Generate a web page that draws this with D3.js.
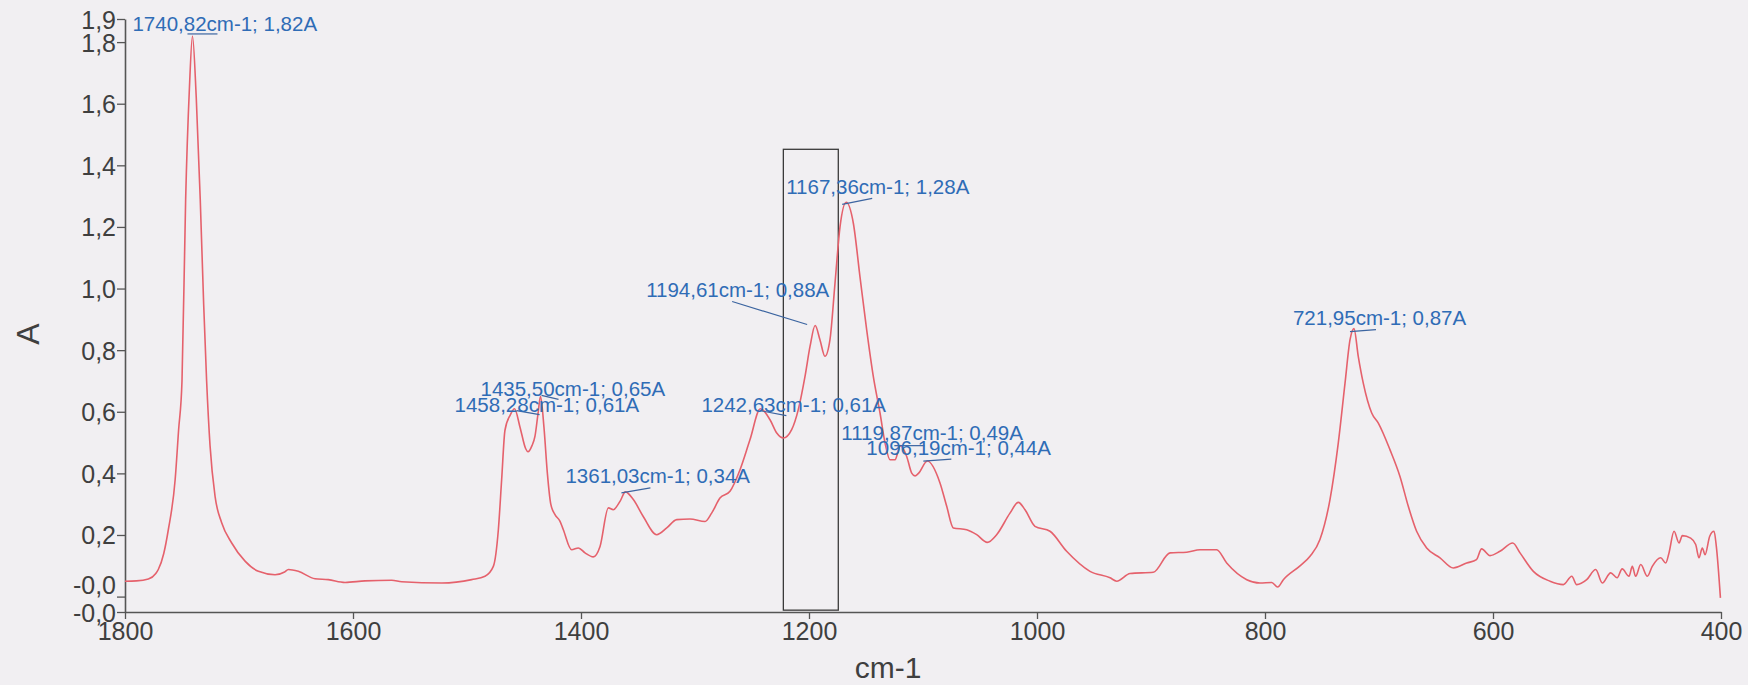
<!DOCTYPE html>
<html>
<head>
<meta charset="utf-8">
<script src="https://cdn.jsdelivr.net/npm/d3@7/dist/d3.min.js"></script>
<style>
  html, body { margin: 0; padding: 0; background: #f1eff2; }
  svg { display: block; font-family: "Liberation Sans", Arial, sans-serif; }
</style>
</head>
<body>
<svg id="chart" width="1748" height="685"></svg>
<script>
// IR absorbance spectrum: wavenumber (cm-1) and absorbance (A)
const wavenumbers = [
  1800, 1790, 1779.5, 1773, 1770.8, 1766, 1762, 1756, 1753, 1750,
  1746.8, 1743.5, 1740.82, 1737.5, 1734, 1731, 1728.4, 1725.4, 1721, 1715.2,
  1706.4, 1694.7, 1683, 1668.4, 1660, 1656.7, 1648, 1633.3, 1621.7, 1607,
  1589.5, 1566, 1557.3, 1522, 1495.9, 1484.2, 1476.9, 1472.5, 1469.6, 1466.7,
  1462, 1458.28, 1453.5, 1448.5, 1446.5, 1443, 1440.4, 1437.5, 1435.5, 1432.5,
  1429.5, 1426.5, 1422.8, 1418.5, 1415.5, 1408.2, 1402.3, 1396.5, 1389.2, 1383.3,
  1376, 1371.7, 1365.8, 1361.03, 1354.1, 1345.4, 1333.6, 1324.8, 1316, 1304.4,
  1291.2, 1285.4, 1278.1, 1269.3, 1260.5, 1251.8, 1242.63, 1234.2, 1228.3, 1222.5,
  1215.2, 1209.4, 1203.5, 1199.1, 1194.61, 1190.4, 1186, 1181.6, 1177.2, 1172.8,
  1167.36, 1161.1, 1155.3, 1149.4, 1143.6, 1137.7, 1133.3, 1128.9, 1124.6, 1119.87,
  1114.3, 1109.9, 1107, 1104, 1096.19, 1085.1, 1079.2, 1073.4, 1061.7, 1052.9,
  1043.6, 1035.4, 1023.7, 1016.4, 1010.5, 1001.8, 988.6, 974, 953.5, 935.9,
  930.1, 918.4, 898, 883.3, 868.7, 857, 842.4, 833.6, 816, 804.4,
  794.1, 788.9, 783.9, 769.3, 760.5, 751.8, 743, 735.7, 729.8, 725.4,
  721.95, 718.2, 713.8, 706.4, 700.6, 690.4, 681.6, 674.3, 667, 658.2,
  646.5, 634.8, 623.1, 614.5, 610, 602.6, 593.9, 582.7, 576.3, 564.6,
  550, 538.3, 530.9, 526.6, 517.8, 509.9, 504.1, 496.8, 491.1, 486.7,
  480.7, 477.8, 474.9, 470.4, 464.6, 460.3, 452.9, 448.5, 445.6, 441.2,
  436.8, 433.9, 426.6, 422.2, 419.3, 416.4, 414, 409.9, 406.1, 404.1,
  400.5
];
const absorbance = [
  0.050, 0.051, 0.057, 0.075, 0.088, 0.140, 0.217, 0.380, 0.540, 0.700,
  1.290, 1.650, 1.820, 1.620, 1.290, 0.950, 0.700, 0.490, 0.325, 0.240,
  0.174, 0.115, 0.082, 0.071, 0.080, 0.088, 0.082, 0.058, 0.055, 0.046,
  0.051, 0.053, 0.048, 0.044, 0.055, 0.066, 0.098, 0.217, 0.380, 0.540,
  0.590, 0.610, 0.550, 0.480, 0.470, 0.490, 0.520, 0.600, 0.650, 0.550,
  0.400, 0.300, 0.266, 0.245, 0.217, 0.152, 0.158, 0.142, 0.129, 0.163,
  0.288, 0.282, 0.309, 0.340, 0.315, 0.260, 0.201, 0.223, 0.250, 0.252,
  0.244, 0.271, 0.320, 0.342, 0.412, 0.509, 0.610, 0.574, 0.531, 0.515,
  0.542, 0.607, 0.715, 0.812, 0.880, 0.834, 0.780, 0.834, 1.017, 1.200,
  1.280, 1.212, 1.039, 0.866, 0.715, 0.596, 0.499, 0.444, 0.444, 0.490,
  0.455, 0.401, 0.392, 0.400, 0.440, 0.369, 0.293, 0.223, 0.217, 0.201,
  0.176, 0.201, 0.271, 0.306, 0.282, 0.228, 0.212, 0.147, 0.082, 0.061,
  0.050, 0.075, 0.079, 0.142, 0.144, 0.152, 0.152, 0.109, 0.055, 0.044,
  0.046, 0.031, 0.055, 0.100, 0.131, 0.185, 0.315, 0.499, 0.693, 0.834,
  0.870, 0.780, 0.693, 0.596, 0.563, 0.477, 0.390, 0.293, 0.212, 0.158,
  0.126, 0.093, 0.109, 0.120, 0.155, 0.133, 0.147, 0.174, 0.142, 0.082,
  0.050, 0.039, 0.066, 0.039, 0.055, 0.088, 0.044, 0.077, 0.061, 0.090,
  0.066, 0.098, 0.066, 0.104, 0.066, 0.098, 0.126, 0.109, 0.142, 0.212,
  0.174, 0.198, 0.190, 0.169, 0.126, 0.158, 0.136, 0.196, 0.212, 0.163,
  -0.004
];

// Picked peaks
const peakWavenumbers = [1740.82, 1167.36, 1194.61, 1435.50, 1458.28, 1242.63, 1361.03, 1119.87, 1096.19, 721.95];
const peakAbsorbance  = [1.82, 1.28, 0.88, 0.65, 0.61, 0.61, 0.34, 0.49, 0.44, 0.87];

// Axis ticks
const xTicks = [1800, 1600, 1400, 1200, 1000, 800, 600, 400];
const yTicks = [1.875, 1.8, 1.6, 1.4, 1.2, 1.0, 0.8, 0.6, 0.4, 0.2, 0.0, -0.05];
const yTickLabels = ["1,9", "1,8", "1,6", "1,4", "1,2", "1,0", "0,8", "0,6", "0,4", "0,2", "-0,0", "-0,0"];

// Selected region box (wavenumber range, absorbance range)
const regionBox = { from: 1222.5, to: 1174.3, top: 1.452, bottom: -0.044 };

// Label placement for each peak: text offset and leader line offsets (px)
const labelLayout = [
  { dx: -60, dy: -5,  l: [-5, -2, 25, -2] },
  { dx: -60, dy: -8,  l: [-4, 2, 26, -4] },
  { dx: -169, dy: -29, l: [-83, -24, -8, -1] },
  { dx: -60, dy: 0,   l: [1, -1, 18, 3] },
  { dx: -60, dy: 3,   l: [2, 2, 25, 6] },
  { dx: -59, dy: 3,   l: [0, 2, 26, 7] },
  { dx: -60, dy: -9,  l: [-4, 1, 25, -4] },
  { dx: -59, dy: -6,  l: [-6, 0, 24, 0] },
  { dx: -61, dy: -6,  l: [-4, 0, 24, -2] },
  { dx: -61, dy: -4,  l: [-4, 3, 22, 1] }
];

const svg = d3.select("#chart");

const x = d3.scaleLinear().domain([1800, 400]).range([125, 1721]);
const y = d3.scaleLinear().domain([-0.05, 1.875]).range([612, 19]);

const comma = v => d3.format(".2f")(v).replace(".", ",");

// Axes
const yAxis = d3.axisLeft(y)
  .tickValues(yTicks)
  .tickFormat((d, i) => yTickLabels[i])
  .tickSize(8)
  .tickSizeOuter(0)
  .tickPadding(1);

const gy = svg.append("g").attr("transform", "translate(125,0)").call(yAxis);

const xAxis = d3.axisBottom(x)
  .tickValues(xTicks)
  .tickFormat(d3.format("d"))
  .tickSize(7)
  .tickSizeOuter(0)
  .tickPadding(3);

const gx = svg.append("g").attr("transform", "translate(0,612)").call(xAxis);

[gx, gy].forEach(g => {
  g.select(".domain").attr("stroke", "#555").attr("stroke-width", 1.6);
  g.selectAll(".tick line").attr("stroke", "#555").attr("stroke-width", 1.3);
  g.selectAll(".tick text").attr("fill", "#3f3f3f").attr("font-size", 25)
    .attr("font-family", "Liberation Sans, Arial, sans-serif");
});
// the zero label sits just above its tick so it clears the bottom label
gy.selectAll(".tick text").attr("dy", (d, i) => i === yTicks.length - 2 ? "-0.12em" : "0.36em");

// Axis titles
svg.append("text")
  .attr("x", 888).attr("y", 678)
  .attr("text-anchor", "middle")
  .attr("font-size", 30)
  .attr("fill", "#3f3f3f")
  .text("cm-1");

svg.append("text")
  .attr("transform", "translate(39,334) rotate(-90)")
  .attr("text-anchor", "middle")
  .attr("font-size", 32)
  .attr("fill", "#3f3f3f")
  .text("A");

// Region box
svg.append("rect")
  .attr("x", x(regionBox.from))
  .attr("y", y(regionBox.top))
  .attr("width", x(regionBox.to) - x(regionBox.from))
  .attr("height", y(regionBox.bottom) - y(regionBox.top))
  .attr("fill", "none")
  .attr("stroke", "#3a3a3a")
  .attr("stroke-width", 1.3);

// Spectrum
const spectrum = wavenumbers.map((w, i) => [w, absorbance[i]]);
svg.append("path")
  .datum(spectrum)
  .attr("fill", "none")
  .attr("stroke", "#e5616c")
  .attr("stroke-width", 1.6)
  .attr("d", d3.line()
    .x(d => x(d[0]))
    .y(d => y(d[1]))
    .curve(d3.curveMonotoneX));

// Peak labels with leader lines
const peaks = peakWavenumbers.map((w, i) => ({ w, a: peakAbsorbance[i], lay: labelLayout[i] }));
const gl = svg.append("g");
peaks.forEach(p => {
  const px = x(p.w), py = y(p.a), l = p.lay.l;
  gl.append("line")
    .attr("x1", px + l[0]).attr("y1", py + l[1])
    .attr("x2", px + l[2]).attr("y2", py + l[3])
    .attr("stroke", "#3b64a0")
    .attr("stroke-width", 1.2);
  gl.append("text")
    .attr("x", px + p.lay.dx)
    .attr("y", py + p.lay.dy)
    .attr("font-size", 20.5)
    .attr("fill", "#2f6cb6")
    .text(`${comma(p.w)}cm-1; ${comma(p.a)}A`);
});
</script>
</body>
</html>
